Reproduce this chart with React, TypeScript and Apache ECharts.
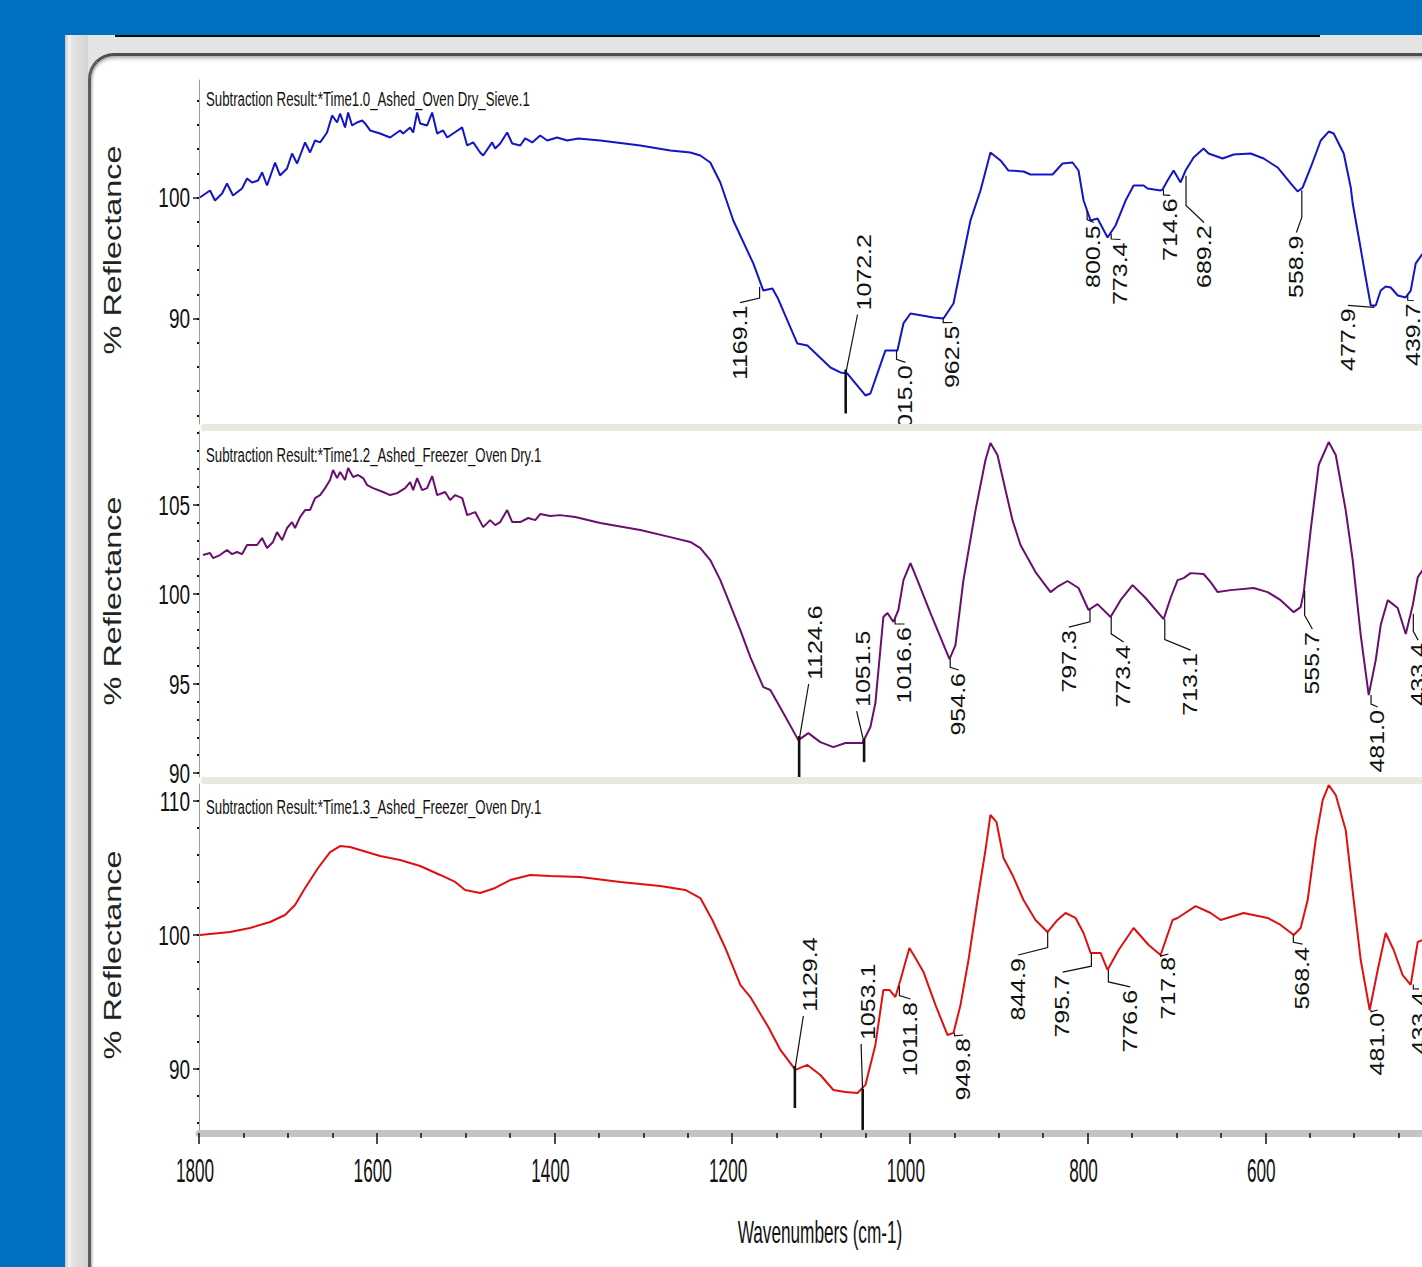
import React, { useEffect, useRef } from "react";
import * as echarts from "echarts";

// ---------- data (wavenumber cm-1, % reflectance) ----------
const sieveSpectrum: [number, number][] = [
  [1799,100.0],[1787.6,100.58],[1782,99.75],[1774,100.33],[1768.5,101.16],[1761.7,100.17],[1751.6,100.74],[1745.9,101.57],[1740.3,101.24],[1733.5,101.4],[1729,102.07],[1723.4,100.99],[1714.4,102.89],[1708.8,101.82],[1700.9,102.4],[1695.3,103.64],[1689.6,102.81],[1680.6,104.55],[1675,103.72],[1669.4,104.71],[1663.7,104.55],[1655.9,105.37],[1650.2,106.78],[1644.6,106.2],[1641.2,106.94],[1635.6,105.79],[1632.2,107.02],[1627.7,105.95],[1622.1,106.2],[1616.4,106.36],[1613.1,106.12],[1607.4,105.54],[1596.2,105.29],[1584.9,104.96],[1573.7,105.54],[1570.3,105.29],[1562.4,105.79],[1559,105.37],[1554.5,107.02],[1551.1,106.12],[1543.3,105.95],[1537.6,107.02],[1532,105.29],[1525.2,105.54],[1520.7,104.96],[1514,105.29],[1503.8,105.79],[1498.2,104.3],[1491.4,104.55],[1483.6,103.72],[1480.2,103.47],[1470.1,104.55],[1466.7,104.05],[1461,104.46],[1453.2,105.37],[1447.5,104.46],[1438.5,104.3],[1432.9,104.88],[1425,104.55],[1416,105.12],[1408.1,104.71],[1396.9,104.96],[1385.6,104.71],[1373.2,104.88],[1348.4,104.71],[1303.4,104.3],[1269.6,103.88],[1247.1,103.72],[1235.8,103.47],[1224.6,102.89],[1213.3,101.24],[1198.7,98.1],[1176.2,94.55],[1164.9,92.31],[1154.7,92.48],[1149,91.74],[1126.6,87.93],[1115.3,87.77],[1089.4,85.95],[1078.2,85.54],[1070.3,85.45],[1050,83.64],[1044.4,83.8],[1027.5,87.36],[1014,87.36],[1007.2,89.59],[999.3,90.41],[973.4,90.08],[962.2,90.0],[950.9,91.24],[931.8,98.1],[920.5,100.58],[909.3,103.72],[898,103.06],[889,102.23],[872.1,102.15],[864.2,101.9],[839.4,101.9],[828.2,102.81],[816.9,102.89],[810.2,102.23],[804.5,99.75],[796.6,98.1],[788.8,98.26],[777.5,96.69],[768.5,97.69],[757.2,99.75],[748.2,100.99],[736.9,100.99],[732.5,100.74],[717.8,100.58],[715.6,100.66],[710,101.4],[703.2,102.23],[695.3,101.24],[689.7,102.23],[680.7,103.31],[669.4,104.05],[663.8,103.64],[648,103.22],[635.6,103.55],[616.5,103.64],[601.8,103.22],[586.1,102.48],[571.4,101.16],[563.6,100.5],[557.9,100.83],[548.9,102.48],[537.6,104.71],[528.6,105.45],[523,105.29],[511.7,103.64],[503.8,100.83],[501.6,99.5],[494.8,96.69],[487,93.39],[481.3,91.07],[475.7,91.07],[470.1,92.31],[464.5,92.64],[458.8,92.56],[450.9,91.9],[442,91.74],[436.3,92.31],[430.7,94.55],[422.8,95.37]
];

const freezer12Spectrum: [number, number][] = [
  [1795.5,102.18],[1787.6,102.29],[1784.2,102.01],[1776.4,102.18],[1768.5,102.46],[1762.8,102.23],[1757.2,102.35],[1751.6,102.23],[1745.9,102.74],[1734.7,102.74],[1729,103.13],[1723.4,102.57],[1716.7,102.91],[1712.2,103.46],[1706.5,103.02],[1700.9,103.69],[1695.3,104.02],[1691.9,103.69],[1686.3,104.3],[1680.6,104.69],[1675,104.69],[1669.4,105.36],[1663.7,105.53],[1658.1,105.92],[1652.5,106.37],[1649.1,106.93],[1644.6,106.48],[1641.2,106.82],[1635.6,106.37],[1632.2,107.04],[1626.6,106.54],[1620.9,106.65],[1615.3,106.48],[1610.8,106.09],[1604.1,105.92],[1592.8,105.7],[1584.9,105.53],[1577,105.64],[1568,105.92],[1562.4,106.26],[1559,105.81],[1554.5,106.48],[1548.9,105.81],[1543.3,105.92],[1537.6,106.59],[1532,105.53],[1523,105.7],[1517.4,105.25],[1511.7,105.53],[1503.8,105.36],[1498.2,104.41],[1489.2,104.58],[1480.2,103.74],[1472.3,104.13],[1466.7,103.85],[1461,104.02],[1453.2,104.69],[1447.5,104.02],[1438.5,104.02],[1429.5,104.25],[1421.6,104.13],[1416,104.47],[1404.7,104.36],[1393.5,104.41],[1376.6,104.3],[1348.4,103.97],[1303.4,103.58],[1269.6,103.18],[1247.1,102.91],[1235.8,102.57],[1224.6,101.9],[1213.3,100.78],[1202.1,99.39],[1190.8,97.99],[1179.5,96.48],[1164.9,94.8],[1157,94.64],[1142.4,93.35],[1125.5,91.84],[1114.2,92.23],[1100.7,91.73],[1086.1,91.45],[1072.5,91.68],[1053.4,91.68],[1044.4,92.57],[1038.8,93.91],[1029.8,98.72],[1025.2,98.94],[1018.5,98.44],[1012.9,99.11],[1007.2,100.78],[999.3,101.73],[991.5,100.78],[976.8,98.94],[955.4,96.37],[948.7,97.15],[939.7,100.78],[926.1,104.69],[914.9,107.49],[909.3,108.44],[901.4,107.77],[892.4,105.81],[884.5,104.13],[875.5,102.74],[858.6,101.23],[841.7,100.11],[832.7,100.45],[822.6,100.73],[810.2,100.34],[798.9,99.11],[788.8,99.44],[774.1,98.72],[762.9,99.66],[749.4,100.5],[734.7,99.78],[714.4,98.6],[706.6,99.78],[698.7,100.78],[691.9,100.89],[684.1,101.17],[669.4,101.12],[661.5,100.67],[653.6,100.11],[639,100.22],[613.1,100.34],[597.3,100.11],[582.7,99.66],[568,98.99],[560.2,99.27],[556.8,100.06],[548.9,103.58],[539.9,107.21],[528.6,108.49],[520.7,107.77],[509.5,104.69],[501.6,101.9],[492.6,97.71],[483.6,94.36],[475.7,96.31],[470.1,98.27],[462.2,99.66],[451,99.22],[441.9,97.77],[434,99.39],[428.4,100.95],[422.8,101.34]
];

const freezer13Spectrum: [number, number][] = [
  [1799,100.0],[1765.1,100.22],[1742.6,100.52],[1720,100.97],[1703.2,101.49],[1691.9,102.24],[1680.6,103.51],[1666,105.0],[1652.5,106.19],[1641.2,106.64],[1630,106.57],[1618.7,106.34],[1596.2,105.9],[1573.7,105.6],[1551.1,105.15],[1528.6,104.48],[1511.7,103.96],[1500.5,103.36],[1483.6,103.13],[1466.7,103.51],[1449.8,104.1],[1427.3,104.48],[1404.7,104.4],[1371,104.33],[1325.9,103.96],[1280.9,103.66],[1252.7,103.36],[1235.8,102.76],[1222.3,101.12],[1207.7,99.03],[1190.8,96.27],[1179.5,95.37],[1159.3,93.13],[1145.7,91.42],[1128.8,89.93],[1115.3,90.3],[1100.7,89.55],[1086.1,88.43],[1072.5,88.28],[1059,88.21],[1050,88.81],[1038.8,91.79],[1029.8,95.9],[1023,95.9],[1016.3,95.37],[1010.6,96.64],[1000.5,99.03],[993.7,98.28],[984.7,97.24],[971.2,94.78],[957.7,92.54],[950.9,92.69],[943,94.78],[934,98.13],[923.9,102.61],[914.9,106.34],[909.3,108.96],[902.5,108.43],[894.6,105.75],[884.5,104.48],[872.1,102.61],[858.6,101.12],[845.1,100.22],[833.8,101.12],[824.8,101.64],[813.5,101.27],[804.5,100.15],[796.6,98.66],[785.4,98.66],[777.5,97.39],[765.1,98.88],[748.2,100.52],[731.3,99.25],[717.8,98.51],[704.3,101.12],[698.7,101.27],[678.4,102.16],[661.5,101.64],[650.3,101.12],[624.4,101.64],[597.3,101.27],[582.7,100.75],[568,100.0],[560.2,100.52],[552.3,102.61],[543.3,107.09],[535.4,110.07],[528.6,111.19],[520.7,110.45],[509.5,107.84],[500.5,102.61],[492.6,98.13],[482.5,94.4],[473.5,97.39],[464.5,100.15],[455.5,98.88],[445.4,97.01],[436.4,96.27],[428.4,99.48],[422.8,99.63]
];

// peak annotations: [peak wavenumber, value at peak, label wavenumber, label anchor value, tail value (or null), label above peak (1) / below (0)]
type Peak = [number, number, number, number, number | null, number];
const sievePeaks: Peak[] = [
  [1169.1, 92.6, 1191, 91.07, null, 0],
  [1072.2, 85.45, 1051, 90.66, 82.15, 1],
  [1015.0, 87.36, 1005, 86.12, null, 0],
  [962.5, 90.0, 952, 89.42, null, 0],
  [800.5, 98.9, 793, 97.69, null, 0],
  [773.4, 97.0, 763, 96.28, null, 0],
  [714.6, 100.66, 707, 99.92, null, 0],
  [689.2, 101.8, 669, 97.69, null, 0],
  [558.9, 100.6, 565, 96.86, null, 0],
  [477.9, 91.07, 507, 90.83, null, 0],
  [439.7, 91.9, 433, 91.24, null, 0],
];
const freezer12Peaks: Peak[] = [
  [1124.6, 91.84, 1106, 95.2, 89.78, 1],
  [1051.5, 91.68, 1052, 93.69, 90.61, 1],
  [1016.6, 98.6, 1006, 98.16, null, 0],
  [954.6, 96.4, 945, 95.59, null, 0],
  [797.3, 99.15, 821, 97.99, null, 0],
  [773.4, 98.72, 759.5, 97.15, null, 0],
  [713.1, 98.6, 684, 96.7, null, 0],
  [555.7, 100.2, 547, 97.88, null, 0],
  [481.0, 94.36, 473.5, 93.52, null, 0],
  [433.4, 98.9, 428, 97.26, null, 0],
];
const freezer13Peaks: Peak[] = [
  [1129.4, 89.93, 1112, 94.25, 87.09, 1],
  [1053.1, 88.21, 1047, 92.16, 85.45, 1],
  [1011.8, 96.2, 999.4, 95.0, null, 0],
  [949.8, 92.7, 940, 92.31, null, 0],
  [844.9, 100.22, 878, 98.28, null, 0],
  [795.7, 98.66, 828, 97.01, null, 0],
  [776.6, 97.39, 752, 95.9, null, 0],
  [717.8, 98.51, 709, 98.36, null, 0],
  [568.4, 100.0, 558, 99.1, null, 0],
  [481.0, 94.4, 473.5, 94.18, null, 0],
  [433.4, 96.3, 427, 95.75, null, 0],
];

const panelTitles = [
  'Subtraction Result:*Time1.0_Ashed_Oven Dry_Sieve.1',
  'Subtraction Result:*Time1.2_Ashed_Freezer_Oven Dry.1',
  'Subtraction Result:*Time1.3_Ashed_Freezer_Oven Dry.1',
];
const xTickLabels = [1800, 1600, 1400, 1200, 1000, 800, 600, 400];
const topYLabels = [90, 100];
const topYMinor = [82, 84, 86, 88, 90, 92, 94, 96, 98, 100, 102, 104, 106, 108];
const midYLabels = [90, 95, 100, 105];
const midYMinor = [90, 91, 92, 93, 94, 95, 96, 97, 98, 99, 100, 101, 102, 103, 104, 105, 106, 107, 108, 109];
const botYLabels = [90, 100, 110];
const botYMinor = [86, 88, 90, 92, 94, 96, 98, 100, 102, 104, 106, 108, 110];

// ---------- styling ----------
const ARIAL = "'Liberation Sans', Arial, sans-serif";
const colors = ['#1414C8', '#6A0F6E', '#E01010'];

const grids = [
  { left: 199, top: 80, width: 1244, height: 344 },
  { left: 199, top: 431, width: 1244, height: 346 },
  { left: 199, top: 784, width: 1244, height: 349 },
];
const yRanges: [number, number][] = [[81.28, 109.71], [89.78, 109.11], [85.22, 111.27]];

function makeRenderItem(peaks: Peak[]) {
  return (params: any, api: any) => {
    const [wn, val, lw, lv, tail, up] = peaks[params.dataIndex];
    const p = api.coord([wn, val]);
    const l = api.coord([lw, lv]);
    const lineStyle = { stroke: '#111', lineWidth: 1.2, fill: null };
    const children: any[] = [];
    if (up) {
      const t = api.coord([wn, tail as number]);
      children.push({ type: 'line', shape: { x1: p[0], y1: p[1] - 4, x2: t[0], y2: t[1] }, style: { stroke: '#111', lineWidth: 2.6 } });
      children.push({ type: 'line', shape: { x1: p[0], y1: p[1], x2: l[0] - 7, y2: l[1] + 4 }, style: lineStyle });
    } else {
      const ky = p[1] + 0.6 * (l[1] - p[1]);
      children.push({ type: 'polyline', shape: { points: [[p[0], p[1]], [p[0], ky], [l[0], l[1] - 3]] }, style: lineStyle });
    }
    children.push({
      type: 'text', x: l[0], y: l[1], rotation: Math.PI / 2, scaleX: 1.25,
      style: { text: wn.toFixed(1), font: `20px ${ARIAL}`, fill: '#111', align: up ? 'left' : 'right', verticalAlign: 'middle' },
    });
    return { type: 'group', children };
  };
}

// tick labels drawn through the axes' scale, in the stretched, narrow style of the original
function xLabelRenderItem(params: any, api: any) {
  const v = xTickLabels[params.dataIndex];
  const p = api.coord([v, yRanges[2][0]]);
  return {
    type: 'text', x: p[0] - 4, y: p[1] + 38, scaleX: 0.86, scaleY: 1.65,
    style: { text: String(v), font: `20px ${ARIAL}`, fill: '#111', align: 'center', verticalAlign: 'middle' },
  };
}
function yLabelRenderItem(labels: number[]) {
  return (params: any, api: any) => {
    const v = labels[params.dataIndex];
    const p = api.coord([1800, v]);
    return {
      type: 'text', x: p[0] - 9, y: p[1], scaleX: 0.95, scaleY: 1.4,
      style: { text: String(v), font: `20px ${ARIAL}`, fill: '#111', align: 'right', verticalAlign: 'middle' },
    };
  };
}

function buildOption() {
  const labelSets = [topYLabels, midYLabels, botYLabels];
  const minorSets = [topYMinor, midYMinor, botYMinor];
  const spectra = [sieveSpectrum, freezer12Spectrum, freezer13Spectrum];
  const peakSets = [sievePeaks, freezer12Peaks, freezer13Peaks];

  const yAxis: any[] = [];
  for (let i = 0; i < 3; i++) {
    yAxis.push({
      type: 'value', gridIndex: i, min: yRanges[i][0], max: yRanges[i][1], position: 'left',
      axisLine: { show: true, onZero: false, lineStyle: { color: '#9a9a9a', width: 1 } },
      axisTick: { show: true, customValues: labelSets[i], length: 6, lineStyle: { color: '#222', width: 1.5 } },
      axisLabel: { show: false },
      splitLine: { show: false },
    });
    yAxis.push({
      type: 'value', gridIndex: i, min: yRanges[i][0], max: yRanges[i][1], position: 'left',
      axisLine: { show: false },
      axisTick: { show: true, customValues: minorSets[i], length: 2, lineStyle: { color: '#111', width: 2 } },
      axisLabel: { show: false },
      splitLine: { show: false },
    });
  }

  const xAxis: any[] = [0, 1].map((i) => ({
    type: 'value', gridIndex: i, min: 400, max: 1800, inverse: true, show: false,
  }));
  xAxis.push({
    type: 'value', gridIndex: 2, min: 400, max: 1800, interval: 200, inverse: true,
    axisLine: { show: true, onZero: false, lineStyle: { color: '#C4C4C4', width: 7 } },
    axisTick: { show: true, length: 11, lineStyle: { color: '#111', width: 1.5 } },
    minorTick: { show: true, splitNumber: 4, length: 5, lineStyle: { color: '#111', width: 1.5 } },
    axisLabel: { show: false },
    splitLine: { show: false },
    minorSplitLine: { show: false },
  });

  const series: any[] = [];
  for (let i = 0; i < 3; i++) {
    series.push({
      type: 'line', xAxisIndex: i, yAxisIndex: i * 2, data: spectra[i], symbol: 'none', showSymbol: false,
      lineStyle: { color: colors[i], width: 2 }, clip: true, z: 3,
    });
    series.push({
      type: 'custom', xAxisIndex: i, yAxisIndex: i * 2, clip: true, z: 4,
      data: peakSets[i].map((p) => [p[0], p[1]]),
      renderItem: makeRenderItem(peakSets[i]),
    });
    series.push({
      type: 'custom', xAxisIndex: i, yAxisIndex: i * 2, clip: false, z: 4, silent: true,
      data: labelSets[i].map((v) => [1800, v]),
      renderItem: yLabelRenderItem(labelSets[i]),
    });
  }
  series.push({
    type: 'custom', xAxisIndex: 2, yAxisIndex: 4, clip: false, z: 4, silent: true,
    data: xTickLabels.map((v) => [v, yRanges[2][0]]),
    renderItem: xLabelRenderItem,
  });

  const titleY = [99, 455, 807];
  const nameY = [250, 601, 955];
  const graphic: any[] = [];
  for (let i = 0; i < 3; i++) {
    graphic.push({
      type: 'text', x: 206, y: titleY[i], scaleX: 0.63,
      style: { text: panelTitles[i], font: `21px ${ARIAL}`, fill: '#111', align: 'left', textAlign: 'left', verticalAlign: 'middle', textVerticalAlign: 'middle' },
    });
    graphic.push({
      type: 'text', x: 113, y: nameY[i], rotation: Math.PI / 2, scaleX: 1.35,
      style: { text: '% Reflectance', font: `24px ${ARIAL}`, fill: '#222', align: 'center', textAlign: 'center', verticalAlign: 'middle', textVerticalAlign: 'middle' },
    });
  }
  graphic.push({
    type: 'text', x: 820, y: 1232, scaleX: 0.86, scaleY: 1.55,
    style: { text: 'Wavenumbers (cm-1)', font: `20px ${ARIAL}`, fill: '#111', align: 'center', textAlign: 'center', verticalAlign: 'middle', textVerticalAlign: 'middle' },
  });

  return { animation: false, grid: grids, xAxis, yAxis, series, graphic };
}

export default function App() {
  const ref = useRef<HTMLDivElement>(null);
  useEffect(() => {
    if (!ref.current) return;
    const chart = echarts.init(ref.current, null, { renderer: 'svg' });
    chart.setOption(buildOption() as any);
    return () => chart.dispose();
  }, []);
  const abs = (s: React.CSSProperties): React.CSSProperties => ({ position: 'absolute', ...s });
  return (
    <div style={{ position: 'fixed', left: 0, top: 0, width: 1422, height: 1267, overflow: 'hidden', background: '#0070C0' }}>
      <div style={abs({ left: 65, top: 35, width: 1400, height: 1300, background: '#E4E4E4' })} />
      <div style={abs({ left: 65, top: 35, width: 23, height: 1300, background: 'linear-gradient(to right, #c4c4c4 0px, #f4f4f4 4px, #e2e2e2 8px, #d4d4d4 23px)' })} />
      <div style={abs({ left: 115, top: 35, width: 1205, height: 2, background: '#0a0a0a' })} />
      <div style={abs({ left: 88, top: 53, width: 1400, height: 1300, background: '#ffffff', borderTop: '3px solid #4d4d4d', borderLeft: '3px solid #5c5c5c', borderTopLeftRadius: 26, boxShadow: 'inset 0 4px 4px -2px rgba(0,0,0,0.35), inset 3px 0 3px -2px rgba(0,0,0,0.3)' })} />
      <div style={abs({ left: 201, top: 424, width: 1300, height: 7, background: '#E9E9DE', borderRadius: 3 })} />
      <div style={abs({ left: 201, top: 777, width: 1300, height: 7, background: '#E9E9DE', borderRadius: 3 })} />
      <div ref={ref} style={abs({ left: 0, top: 0, width: 1460, height: 1267 })} />
    </div>
  );
}
